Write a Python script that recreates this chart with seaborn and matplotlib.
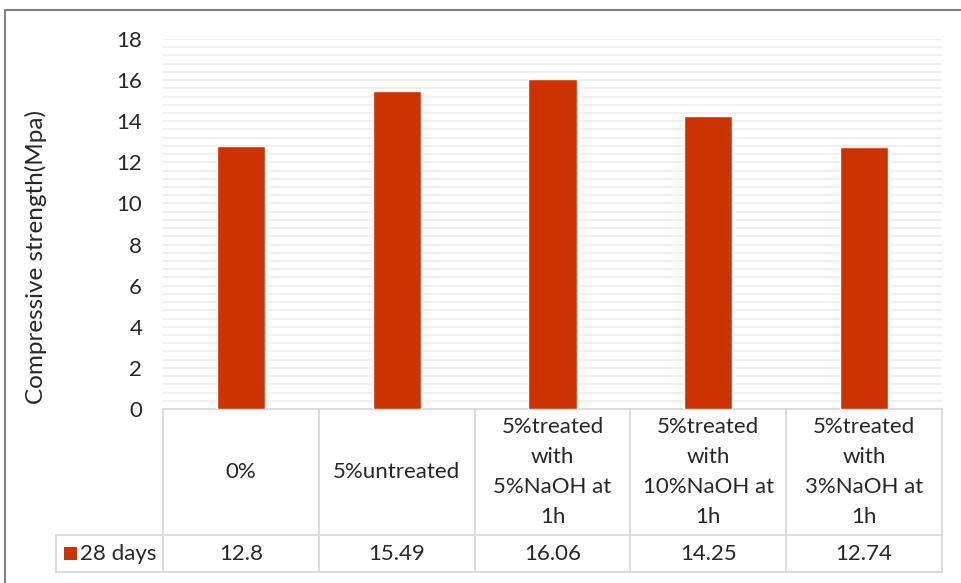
import matplotlib
matplotlib.use('Agg')
import matplotlib.pyplot as plt
import seaborn as sns
from matplotlib.lines import Line2D
from matplotlib.patches import Rectangle
from matplotlib.ticker import MultipleLocator

# chart data
categories = ['0%', '5%untreated', '5%treated\nwith\n5%NaOH at\n1h',
              '5%treated\nwith\n10%NaOH at\n1h', '5%treated\nwith\n3%NaOH at\n1h']
values = [12.8, 15.49, 16.06, 14.25, 12.74]
series_name = '28 days'
y_ticks = [0, 2, 4, 6, 8, 10, 12, 14, 16, 18]

BAR_COLOR = '#CC3300'
GRID_COLOR = '#EDEDED'
TABLE_COLOR = '#D9D9D9'
TEXT_COLOR = '#262626'

W, H = 961, 583
sns.set_style('white')
plt.rcParams['font.family'] = ['Lato', 'DejaVu Sans']

fig = plt.figure(figsize=(W / 100, H / 100), dpi=100)
# plot area in pixels: x 163..942, y 39..409
ax = fig.add_axes([163 / W, 1 - 409 / H, (942 - 163) / W, (409 - 39) / H])

sns.barplot(x=list(range(len(values))), y=values, color=BAR_COLOR, width=0.31,
            saturation=1, ax=ax, zorder=3)

ax.set_xlim(-0.5, len(values) - 0.5)
ax.set_ylim(0, 18)
ax.set_yticks(y_ticks)
ax.yaxis.set_minor_locator(MultipleLocator(0.4))
ax.grid(axis='y', which='both', color=GRID_COLOR, linewidth=1.2, zorder=0)
ax.set_axisbelow(True)
ax.tick_params(axis='y', length=0, pad=15, labelsize=16, colors=TEXT_COLOR)
ax.tick_params(axis='x', length=0, labelbottom=False)
ax.set_xlabel('')
ax.set_ylabel('Compressive strength(Mpa)', fontsize=17.5, color=TEXT_COLOR)


def axy(py):
    # pixel row -> axes fraction
    return (409 - py) / (409 - 39)


def axx(px):
    return (px - 163) / (942 - 163)


ax.yaxis.set_label_coords(axx(47), axy(257))
for s in ax.spines.values():
    s.set_visible(False)

tr = ax.get_xaxis_transform()
row1_bot, row2_bot = axy(535), axy(572)
line_kw = dict(color=TABLE_COLOR, linewidth=1.3, clip_on=False)

# horizontal table lines
ax.add_line(Line2D([-0.5, len(values) - 0.5], [0, 0], transform=tr, **line_kw))
ax.add_line(Line2D([axx(56), 1], [row1_bot, row1_bot], transform=ax.transAxes, **line_kw))
ax.add_line(Line2D([axx(56), 1], [row2_bot, row2_bot], transform=ax.transAxes, **line_kw))
# vertical table lines
for i in range(len(values) + 1):
    ax.add_line(Line2D([i - 0.5, i - 0.5], [0, row2_bot], transform=tr, **line_kw))
ax.add_line(Line2D([axx(56), axx(56)], [row1_bot, row2_bot], transform=ax.transAxes, **line_kw))

# category and value cells
for i, (cat, val) in enumerate(zip(categories, values)):
    ax.text(i, (0 + row1_bot) / 2, cat, transform=tr, ha='center', va='center',
            fontsize=16, color=TEXT_COLOR, linespacing=1.62)
    ax.text(i, (row1_bot + row2_bot) / 2, f'{val:g}', transform=tr, ha='center',
            va='center', fontsize=16, color=TEXT_COLOR)

# legend key in the row header
mid = (row1_bot + row2_bot) / 2
ax.add_patch(Rectangle((axx(64), mid - 6.5 / 370), 13 / 779, 13 / 370, transform=ax.transAxes,
                       facecolor=BAR_COLOR, edgecolor='none', clip_on=False))
ax.text(axx(80), mid, series_name, transform=ax.transAxes, ha='left', va='center',
        fontsize=16, color=TEXT_COLOR)

# outer chart frame
fig.add_artist(Line2D([5 / W, 5 / W], [0, 1 - 10 / H], color='#7F7F7F', linewidth=1.5))
fig.add_artist(Line2D([5 / W, 1], [1 - 10 / H, 1 - 10 / H], color='#7F7F7F', linewidth=1.5))

fig.savefig('out.png', dpi=100, facecolor='white')
plt.close(fig)
